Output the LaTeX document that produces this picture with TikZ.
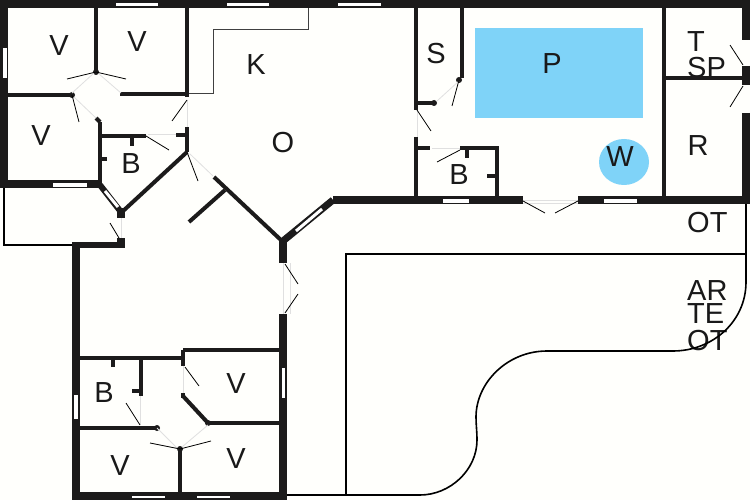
\documentclass[tikz,border=0pt]{standalone}
\usepackage{fontspec}
\setmainfont{Liberation Sans}
\definecolor{poolblue}{HTML}{7FD3F8}
\definecolor{wallblack}{HTML}{1C1B1B}
\tikzset{
    wand/.style={draw=wallblack, line width=4pt},
    dickwand/.style={draw=wallblack, line width=8pt},
    fenster/.style={draw=wallblack, fill=white, line width=0.5pt},
    fensterdiag/.style={draw=white, line width=3pt},
    tuer/.style={draw=black!12, line width=0.8pt},
    schwung/.style={draw=black, line width=0.8pt},
    aussen/.style={draw=black, line width=1.6pt},
    raum/.style={font=\fontsize{29}{29}\selectfont, inner sep=0pt, text=black!90},
}

\begin{document}
\begin{tikzpicture}[x=1pt, y=-1pt]
    \useasboundingbox (0,0) rectangle (750,500);
    \fill[white!99!yellow] (0,0) rectangle (750,500);

    % Pool und Whirlpool
    \fill[poolblue] (475,28) rectangle (643,118);
    \fill[poolblue] (624,162) ellipse (25 and 23);

    % Raumbezeichnungen
    \foreach \n/\x/\y/\t in {va/59/46/V, vb/137/42/V, vc/41/136/V, ba/131/164/B, k/256/65/K,
        o/283/143/O, s/436/54/S, p/552/64/P, w/620/157/W, bb/459/175/B, r/698/146/R,
        vd/236/384/V, be/104/393/B, ve/120/466/V, vf/236/459/V} {
        \node[raum] (\n) at (\x,\y) {\t};
    }
    % links ausgerichtete Beschriftungen rechts
    \foreach \n/\y/\t in {t/52/T, sp/78/SP, ot/233/OT, ar/300/AR, te/323/TE, otb/350/OT} {
        \node[raum, anchor=base west] (\n) at (687,\y) {\t};
    }

    % Aussenlinien Terrasse
    \draw[aussen] (746,203) -- (746,282) .. controls (746,322) and (712,351) .. (673,351) -- (547,351)
        .. controls (507,351) and (476,383) .. (476,417) .. controls (476,424) and (477,432) .. (477,440)
        .. controls (477,470) and (450,495) .. (420,495) -- (287,495);
    \draw[aussen] (346,495) -- (346,254) -- (746,254);
    \draw[black, line width=1.2pt] (72,245) -- (4,245) -- (4,188);
    \draw[black!75, line width=1pt] (187,94) -- (213,94) -- (213,30) -- (308,30) -- (308,8);

    % Aussenwaende
    \draw[dickwand] (0,4) -- (750,4);
    \draw[dickwand] (4,0) -- (4,188);
    \draw[dickwand] (0,184) -- (100,184);
    \draw[dickwand] (333,200) -- (523,200);
    \draw[dickwand] (578,200) -- (750,200);
    \draw[dickwand] (746,0) -- (746,40);
    \draw[dickwand] (746,66) -- (746,85);
    \draw[dickwand] (746,113) -- (746,203);
    \draw[dickwand] (76,242) -- (76,500);
    \draw[dickwand] (72,496) -- (287,496);
    \draw[dickwand] (283,240) -- (283,263);
    \draw[dickwand] (283,314) -- (283,500);
    \draw[draw=wallblack, line width=6pt] (72,245) -- (125,245);
    \draw[dickwand] (121,238) -- (121,248);
    \draw[draw=wallblack, line width=7pt] (283,241) -- (333,200);
    \draw[draw=wallblack, line width=6pt] (100,185) -- (121,212);
    \fill[wallblack] (117,208) rectangle (125,218);

    % Innenwaende
    \foreach \a/\b/\c/\d in {96/8/96/72, 8/95/72/95, 120/94/187/94, 187/8/187/97, 187/127/187/152,
        100/122/100/185, 96/118/100/122, 100/136/146/136, 132/136/132/146, 100/159/107/159, 176/135/187/135,
        187/152/122/212, 214/177/282/241, 225/190/189/222,
        416/8/416/110, 416/137/416/200, 462/8/462/78, 416/103/434/103,
        416/148/430/148, 460/148/499/148, 497/148/497/200, 467/148/467/158, 487/176/497/176,
        664/8/664/200, 664/78/745/78,
        79/358/185/358, 183/350/280/350, 183/350/183/366, 183/393/183/398, 183/396/208/423, 208/423/280/423,
        141/358/141/396, 132/391/141/391, 113/358/113/367, 79/428/157/428, 180/449/180/495} {
        \draw[wand] (\a,\b) -- (\c,\d);
    }
    % Tuerpfosten
    \foreach \x/\y in {96/72, 72/95, 434/103, 459/80, 180/449, 208/423, 157/428} {
        \fill[wallblack] (\x,\y) circle (3);
    }

    % Fenster
    \foreach \a/\b/\c/\d in {115/2/158/6, 226/2/269/6, 337/2/381/6, 2/47/7/78, 52/182/87/187,
        442/198/469/203, 603/198/637/203, 281/367/285/398, 73/394/78/419, 131/495/165/498, 196/495/230/498} {
        \draw[fenster] (\a,\b) rectangle (\c,\d);
    }
    \draw[fensterdiag] (105,191) -- (118,207);
    \draw[fensterdiag] (296,231) -- (322,209);

    % Tueren
    \foreach \a/\b/\c/\d in {72/93/94/73, 99/74/121/93, 74/97/96/118, 187/100/187/127, 148/134/176/134,
        190/154/213/176, 121/218/121/238, 417/110/417/137, 432/148/460/148, 437/101/459/81,
        523/200/578/200, 523/203/578/203, 283/263/283/314, 290/263/290/314,
        183/366/183/393, 140/396/140/425, 157/428/178/449, 208/425/182/447} {
        \draw[tuer] (\a,\b) -- (\c,\d);
    }
    \foreach \a/\b/\c/\d in {96/72/67/79, 96/72/126/79, 72/95/79/122, 187/100/172/121, 146/136/169/150,
        187/152/198/181, 110/223/119/238, 417/110/431/131, 459/80/452/106, 460/150/437/162,
        730/45/743/65, 743/86/730/107, 523/201/545/213, 578/201/555/213,
        285/264/298/284, 285/313/298/294, 185/367/199/386, 140/425/126/403, 180/449/150/443, 180/449/211/441} {
        \draw[schwung] (\a,\b) -- (\c,\d);
    }
\end{tikzpicture}
\end{document}
